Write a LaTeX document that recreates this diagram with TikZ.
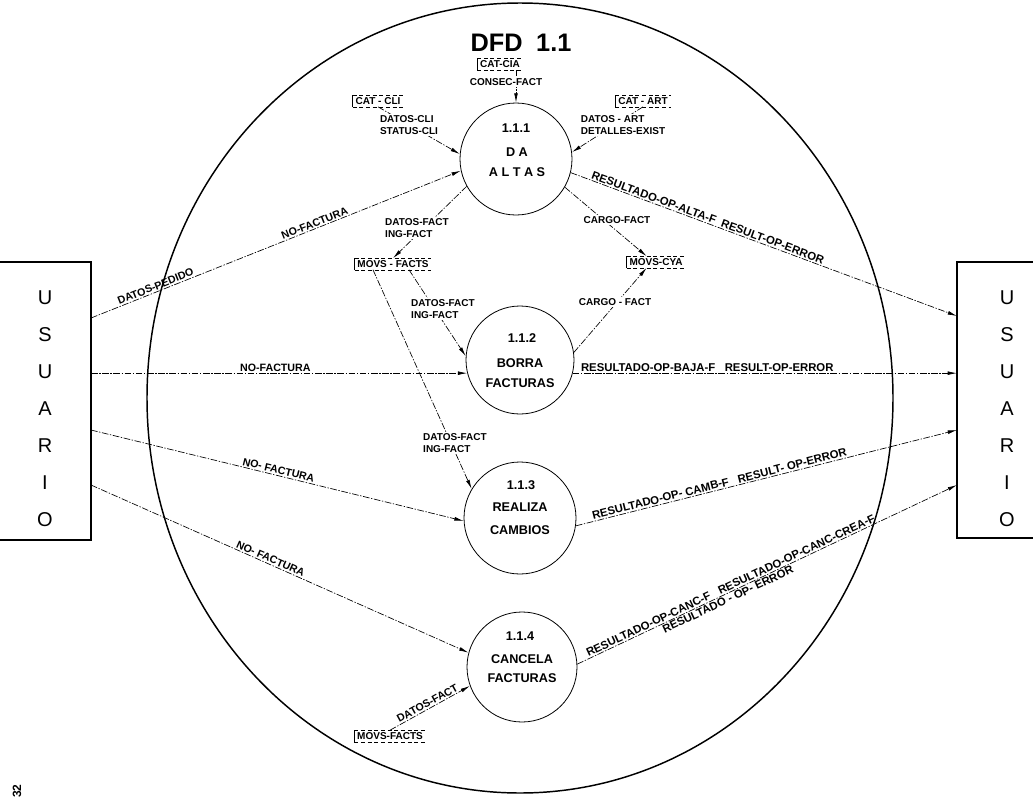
\documentclass[tikz,border=0pt]{standalone}
\usepackage{fontspec}
\setmainfont{Liberation Sans}
\usetikzlibrary{arrows.meta}

\begin{document}
\begin{tikzpicture}[x=0.75pt,y=-0.75pt,
  flow/.style={line width=0.5pt, dash pattern=on 5pt off 1.2pt on 1pt off 1.2pt,
               -{Latex[length=7pt,width=2.8pt]}},
  proc/.style={circle, draw, line width=0.6pt, inner sep=0pt},
  ptext/.style={font=\fontsize{9.5}{11}\selectfont\bfseries, inner sep=0pt},
  lbl/.style={font=\fontsize{7.5}{8.5}\selectfont\bfseries, inner sep=1pt},
  lbln/.style={font=\fontsize{8}{9}\selectfont\bfseries, inner sep=1pt},
  lblw/.style={font=\fontsize{8.5}{9.5}\selectfont\bfseries, inner sep=1pt},
  tag/.style={lbl, fill=white, align=left},
  store/.style={lbl, inner xsep=2pt, inner ysep=1.5pt},
  wall/.style={line width=1.1pt},
  usr/.style={align=center, font=\fontsize{15}{27.75}\selectfont, inner sep=0pt},
]
% page
\fill[white] (0,0) rectangle (1033,800);
\useasboundingbox (0,0) rectangle (1033,800);

% context boundary of the level-1.1 diagram
\draw[wall] (520,398) ellipse [x radius=279.75pt, y radius=296.25pt];
\node[font=\fontsize{19}{22}\selectfont\bfseries, inner sep=0pt] (title) at (521,43) {DFD\hspace{5pt} 1.1};

% external entity USUARIO, left and right
\draw[wall] (0,262) -- (91,262) -- (91,540) -- (0,540);
\draw[wall] (1033,262) -- (957,262) -- (957,538) -- (1033,538);
\node[usr] (uL) at (45,409) {U\\S\\U\\A\\R\\I\\O};
\node[usr] (uR) at (1007,409) {U\\S\\U\\A\\R\\I\\O};
\coordinate (inL1) at (91,318);
\coordinate (inL2) at (91,373);
\coordinate (inL3) at (91,430);
\coordinate (inL4) at (91,485);
\coordinate (outR1) at (957,316);
\coordinate (outR2) at (957,373);
\coordinate (outR3) at (957,430);
\coordinate (outR4) at (957,485);

% processes
\node[proc, minimum size=84pt] (p111) at (516,159) {};
\node[ptext] (n111) at (516,128) {1.1.1};
\node[ptext] (a111) at (517,152) {D A};
\node[ptext] (b111) at (517,172) {A L T A S};

\node[proc, minimum size=81pt] (p112) at (520,360) {};
\node[ptext] (n112) at (522,338) {1.1.2};
\node[ptext] (a112) at (520,363) {BORRA};
\node[ptext] (b112) at (520,383) {FACTURAS};

\node[proc, minimum size=84pt] (p113) at (520,518) {};
\node[ptext] (n113) at (521,485) {1.1.3};
\node[ptext] (a113) at (520,507) {REALIZA};
\node[ptext] (b113) at (520,530) {CAMBIOS};

\node[proc, minimum size=82.5pt] (p114) at (522,667) {};
\node[ptext] (n114) at (520,636) {1.1.4};
\node[ptext] (a114) at (522,659) {CANCELA};
\node[ptext] (b114) at (522,678) {FACTURAS};

% data stores
\node[store] (scia) at (500,64) {CAT-CIA};
\node[store] (scli) at (378,101) {CAT - CLI};
\node[store] (sart) at (643,101) {CAT - ART};
\node[store] (smfa) at (393,264) {MOVS - FACTS};
\node[store] (scya) at (656,262) {MOVS-CYA};
\node[store] (smfb) at (390,736) {MOVS-FACTS};
\foreach \s in {scia,scli,sart,smfa,scya,smfb}{
  \draw[line width=0.9pt] (\s.north west) -- (\s.south west);
  \draw[line width=0.45pt, densely dashed] (\s.north west) -- (\s.north east)
        (\s.south west) -- (\s.south east);
}

% flows from the user
\draw[flow] (inL1) -- node[lbln, sloped, anchor=south, pos=0.18] (fpd) {DATOS-PEDIDO}
                      node[lbln, sloped, anchor=south, pos=0.61] (fnf1) {NO-FACTURA} (p111.192);
\draw[flow] (inL2 |- p112.194) -- node[lbln, anchor=south, pos=0.49] (fnf2) {NO-FACTURA} (p112.194);
\draw[flow] (inL3) -- node[lbln, sloped, anchor=south, pos=0.5] (fnf3) {NO- FACTURA} (p113.183);
\draw[flow] (inL4) -- node[lbln, sloped, anchor=south, pos=0.47] (fnf4) {NO- FACTURA} (p114.165);

% flows back to the user
\draw[flow] (p111.346) -- node[lblw, sloped, anchor=south, pos=0.35] (fr1)
      {RESULTADO-OP-ALTA-F\ \ RESULT-OP-ERROR} (outR1);
\draw[flow] (p112.346) -- node[lblw, anchor=south, pos=0.35] (fr2)
      {RESULTADO-OP-BAJA-F\ \ \ RESULT-OP-ERROR} (outR2 |- p112.346);
\draw[flow] (p113.352) -- node[lblw, sloped, anchor=south, pos=0.38] (fr3)
      {RESULTADO-OP- CAMB-F\ \ \ RESULT- OP-ERROR} (outR3);
\draw[flow] (p114.3) -- node[lblw, sloped, anchor=south, pos=0.41] (fr4a)
      {RESULTADO-OP-CANC-F\ \ \ RESULTADO-OP-CANC-CREA-F}
      node[lblw, sloped, anchor=north, pos=0.39] (fr4b) {RESULTADO - OP- ERROR} (outR4);

% flows between stores and processes
\draw[flow] (p111.90 |- scia.south) -- (p111.90);
\draw[flow] (scli.south) -- (p111.175);
\draw[flow] (sart.south) -- (p111.7);
\draw[flow] (p111.209) -- (smfa.north);
\draw[flow] ([xshift=12pt]smfa.south) -- (p112.176);
\draw[flow] ([xshift=-15pt]smfa.south) -- (p113.149);
\draw[flow] (p111.330) -- ([xshift=-7pt]scya.north);
\draw[flow] (p112.8) -- ([xshift=-7pt]scya.south);
\draw[flow] (smfb.north) -- node[lbln, sloped, anchor=south, pos=0.5] (fdf) {DATOS-FACT} (p114.200);

% flow labels
\node[tag, align=center] (tcia) at (506,82) {CONSEC-FACT};
\node[tag] (tcli) at (409,125) {DATOS-CLI\\STATUS-CLI};
\node[tag] (tart) at (623,125) {DATOS - ART\\DETALLES-EXIST};
\node[tag] (tmf1) at (417,228) {DATOS-FACT\\ING-FACT};
\node[tag] (tmf2) at (443,309) {DATOS-FACT\\ING-FACT};
\node[tag] (tmf3) at (455,443) {DATOS-FACT\\ING-FACT};
\node[tag] (tcy1) at (617,220) {CARGO-FACT};
\node[tag] (tcy2) at (615,302) {CARGO - FACT};

% page number
\node[font=\fontsize{9}{10}\selectfont\bfseries, rotate=90, inner sep=0pt] (pg) at (17,791) {32};
\end{tikzpicture}
\end{document}
